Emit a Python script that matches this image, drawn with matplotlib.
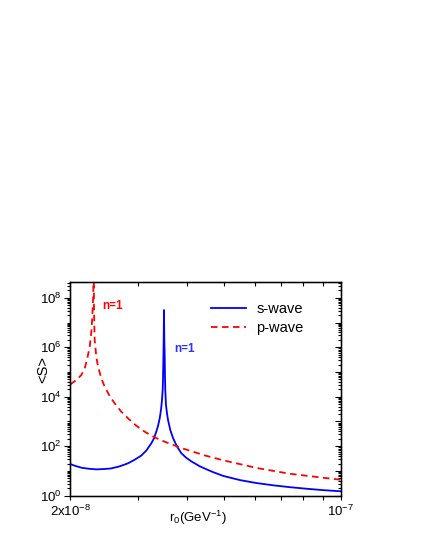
import matplotlib
matplotlib.use("Agg")
import matplotlib.pyplot as plt
from matplotlib.ticker import FixedLocator, NullFormatter, FixedFormatter

plt.rcParams['font.family'] = ['Liberation Sans', 'DejaVu Sans']
plt.rcParams['mathtext.fontset'] = 'custom'
plt.rcParams['mathtext.rm'] = 'Liberation Sans'
plt.rcParams['mathtext.it'] = 'Liberation Sans:italic'
plt.rcParams['mathtext.bf'] = 'Liberation Sans:bold'

# s-wave data (r0 in GeV^-1, <S>)
s_r0 = [2.00e-8, 2.053e-8, 2.135e-8, 2.222e-8, 2.335e-8, 2.454e-8, 2.553e-8,
        2.683e-8, 2.82e-8, 2.934e-8, 3.052e-8, 3.145e-8, 3.239e-8, 3.291e-8,
        3.336e-8, 3.371e-8, 3.405e-8, 3.431e-8, 3.452e-8, 3.466e-8, 3.472e-8,
        3.479e-8, 3.487e-8, 3.493e-8,
        3.500e-8, 3.508e-8, 3.514e-8, 3.520e-8, 3.535e-8, 3.556e-8, 3.578e-8,
        3.627e-8, 3.686e-8, 3.774e-8, 3.872e-8, 3.990e-8, 4.110e-8, 4.320e-8,
        4.539e-8, 4.685e-8, 4.972e-8, 5.492e-8, 6.065e-8, 6.696e-8, 7.396e-8,
        8.168e-8, 9.016e-8, 1.0e-7]
s_S = [19.1, 16.3, 13.6, 12.4, 11.6, 12.0, 12.7,
       15.4, 20.4, 28.5, 42.0, 67.0, 131, 208,
       387, 655, 1340, 2900, 7360, 1.87e4, 4.73e4,
       2.23e5, 1.95e6, 3.18e7,
       1.95e6, 4.14e5, 6.44e4, 1.87e4, 4620, 2130, 1145,
       451, 215, 98.0, 52.5, 33.9, 24.5, 15.5,
       11.0, 8.9, 6.3, 4.27, 3.24, 2.63, 2.21,
       1.91, 1.68, 1.51]

# p-wave data
p_r0 = [2.00e-8, 2.073e-8, 2.135e-8, 2.179e-8, 2.213e-8, 2.245e-8, 2.267e-8,
        2.280e-8, 2.294e-8, 2.298e-8,
        2.303e-8, 2.312e-8, 2.335e-8, 2.359e-8, 2.406e-8, 2.454e-8, 2.528e-8,
        2.605e-8, 2.710e-8, 2.82e-8, 2.963e-8, 3.114e-8, 3.305e-8, 3.508e-8,
        3.869e-8, 4.472e-8, 5.006e-8, 6.072e-8, 7.366e-8, 9.078e-8, 1.0e-7]
p_S = [3.16e4, 4.73e4, 7.53e4, 1.40e5, 3.55e5, 1.05e6, 4.24e6,
       1.71e7, 1.75e8, 1e10,
       3.18e7, 1.95e6, 4.14e5, 1.63e5, 5.52e4, 2.54e4, 1.07e4,
       5400, 2480, 1340, 676, 386, 228, 152,
       85.1, 41.7, 26.3, 13.2, 7.76, 5.25, 4.42]

x_major = [2e-8, 1e-7]
x_major_labels = [r'2x10$^{-8}$', r'10$^{-7}$']
x_minor = [3e-8, 4e-8, 5e-8, 6e-8, 7e-8, 8e-8, 9e-8]
y_label_ticks = [1e0, 1e2, 1e4, 1e6, 1e8]
y_label_text = [r'10$^{0}$', r'10$^{2}$', r'10$^{4}$', r'10$^{6}$', r'10$^{8}$']

fig = plt.figure(figsize=(4.22, 5.46), dpi=100)
ax = fig.add_axes([0.1666, 0.0921, 0.6407, 0.392])

ax.plot(s_r0, s_S, color='#0000ff', lw=1.3, label='s-wave')
ax.plot(p_r0, p_S, color='#ff0000', lw=1.3, ls=(0, (3.6, 2.5)), label='p-wave')

ax.set_xscale('log')
ax.set_yscale('log')
ax.set_xlim(2e-8, 1e-7)
ax.set_ylim(1, 10**8.65)

# x ticks
ax.xaxis.set_major_locator(FixedLocator(x_major))
ax.xaxis.set_major_formatter(FixedFormatter(x_major_labels))
ax.xaxis.set_minor_locator(FixedLocator(x_minor))
ax.xaxis.set_minor_formatter(NullFormatter())
ax.tick_params(axis='x', which='both', direction='out', length=3, width=0.8,
               labelsize=9.5, pad=3)

# y ticks
decades = [10.0**k for k in range(0, 9)]
y_minor = [m * 10.0**k for k in range(0, 9) for m in range(2, 10)]
ax.yaxis.set_major_locator(FixedLocator(y_label_ticks))
ax.yaxis.set_major_formatter(FixedFormatter(y_label_text))
ax.yaxis.set_minor_locator(FixedLocator([d for d in decades if d not in y_label_ticks] + y_minor))
ax.yaxis.set_minor_formatter(NullFormatter())
ax.tick_params(axis='y', which='major', direction='out', length=4.5, width=0.8,
               labelsize=9.5, pad=1.5)
ax.tick_params(axis='y', which='minor', direction='out', length=2.5, width=0.8)

for sp in ax.spines.values():
    sp.set_linewidth(1.0)

# top and right inward ticks
axr = ax.twinx()
axr.set_yscale('log')
axr.set_ylim(ax.get_ylim())
axr.yaxis.set_major_locator(FixedLocator(decades))
axr.yaxis.set_minor_locator(FixedLocator(y_minor))
axr.yaxis.set_major_formatter(NullFormatter())
axr.yaxis.set_minor_formatter(NullFormatter())
axr.tick_params(axis='y', which='major', direction='in', length=4, width=0.8)
axr.tick_params(axis='y', which='minor', direction='in', length=2.5, width=0.8)

axt = ax.twiny()
axt.set_xscale('log')
axt.set_xlim(ax.get_xlim())
axt.xaxis.set_major_locator(FixedLocator(x_major))
axt.xaxis.set_minor_locator(FixedLocator(x_minor))
axt.xaxis.set_major_formatter(NullFormatter())
axt.xaxis.set_minor_formatter(NullFormatter())
axt.tick_params(axis='x', which='both', direction='in', length=3, width=0.8)

ax.set_xlabel(r'r$_{0}$(GeV$^{-1}$)', fontsize=9.5)
ax.xaxis.set_label_coords(0.472, -0.062)
ax.set_ylabel('<S>', fontsize=10.5)
ax.yaxis.set_label_coords(-0.075, 0.59)

ax.text(0.157, 0.886, 'n=1', color='#ff0000', fontsize=8.5, fontweight='bold',
        ha='center', va='center', transform=ax.transAxes)
ax.text(0.423, 0.686, 'n=1', color='#3030ff', fontsize=8.5, fontweight='bold',
        ha='center', va='center', transform=ax.transAxes)

leg = ax.legend(loc='upper right', bbox_to_anchor=(0.885, 0.93), frameon=False,
                fontsize=10.5, handlelength=2.4, handletextpad=0.7,
                labelspacing=0.3, borderaxespad=0)

fig.savefig('out.png', dpi=100)
